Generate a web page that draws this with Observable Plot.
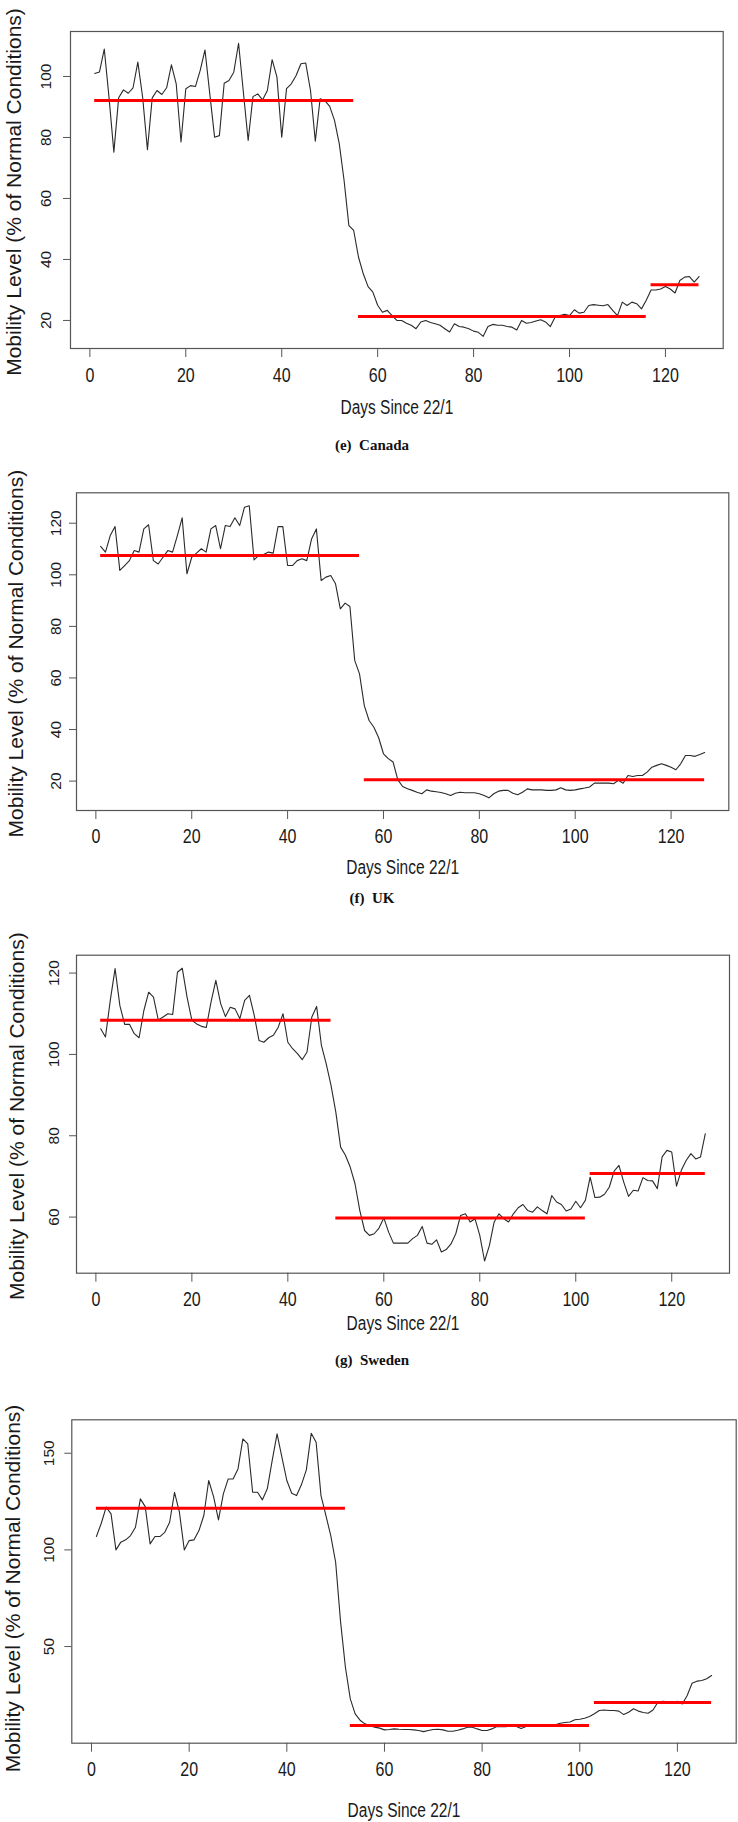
<!DOCTYPE html>
<html><head><meta charset="utf-8">
<script src="https://cdn.jsdelivr.net/npm/d3@7"></script>
<script src="https://cdn.jsdelivr.net/npm/@observablehq/plot@0.6"></script>
<style>
html,body{margin:0;padding:0;background:#fff;}
#page{position:relative;width:738px;height:1822px;overflow:hidden;background:#fff;}
.panel{position:absolute;left:0;width:738px;}
.caption{position:absolute;left:0;width:744px;text-align:center;font-family:"Liberation Serif","Times New Roman",serif;font-weight:bold;font-size:15px;line-height:18px;color:#111;white-space:pre;}
</style></head><body><div id="page"></div>
<script>
const days = d3.range(1, 128);
const xTicks = [0, 20, 40, 60, 80, 100, 120];
const xTitle = "Days Since 22/1";
const yTitle = "Mobility Level (% of Normal Conditions)";

const canada = [101,101.5,109,93,75.2,93,95.6,94.5,96.3,104.7,
93.2,76,93,95.4,94.1,96.3,103.8,97.6,78.5,96,
97,96.7,102,108.7,94.3,80.1,80.6,97.8,98.7,101.4,
110.9,94.9,79,93.4,94.3,92.3,95.4,105.5,99.8,80.1,
96,97.6,100.3,104.2,104.4,95.4,78.8,92.7,92.1,90.2,
85.6,77.9,65.9,51.1,49.5,40.8,35.3,31.1,29.3,25,
22.7,23.3,21.6,20,20,19.1,18.4,17.3,19.5,20,
19.3,18.9,18.4,17.3,16.2,18.9,18,17.8,17.3,16.5,
16.1,14.8,18,18.7,18.4,18.4,18,17.8,16.9,20,
19.1,19.3,19.8,20.2,19.5,18,21.1,21.6,22,21.6,
23.5,22.4,22.7,24.9,25.2,25,24.8,25.2,23.3,21.6,
26,24.9,26,25.5,23.8,26.6,30,30,30.3,31.1,
30.3,29,33.1,34.2,34.4,32.6,34.4];
const canadaLevels = [{start:1,end:55,level:92.1},{start:56,end:116,level:21.3},{start:117,end:127,level:31.7}];
const canadaYTicks = [20, 40, 60, 80, 100];

const uk = [111,108.8,115.2,118.7,101.7,103.6,105.5,109.4,108.8,117.8,
119.4,105.5,104.2,106.8,109.4,108.8,115.2,122.1,100.4,106.8,
108.4,110.1,108.8,117.8,119.1,110.1,119.1,118.7,122.1,119.1,
126.2,126.8,105.8,107.5,107.9,108.8,108.4,118.7,118.7,103.6,
103.6,105.5,106.2,105.5,113.9,117.8,97.8,99.1,99.7,96.5,
86.8,89,87.7,66.8,61.6,49.3,43.5,40.9,36.8,30.6,
28.7,27.4,20.5,17.9,17,16.4,15.7,15.1,16.6,16.1,
15.9,15.6,15.1,14.4,15.3,15.7,15.5,15.5,15.5,15.1,
14.4,13.5,15.1,16.1,16.4,16.4,15.3,14.7,15.7,17,
16.6,16.6,16.6,16.4,16.4,16.6,17.4,16.6,16.4,16.6,
17,17.3,17.7,19.2,19.2,19.2,19.2,19,20.3,19.2,
22.2,21.8,22.2,22.2,23.5,25.4,26.1,26.7,26.1,25.4,
24.4,26.7,29.9,29.9,29.6,30.3,31.1];
const ukLevels = [{start:1,end:55,level:107.5},{start:56,end:127,level:20.5}];
const ukYTicks = [20, 40, 60, 80, 100, 120];

const sweden = [106.3,104.3,113.3,121.1,112,107.4,107.4,105.1,104.1,110.8,
115.3,114.1,108.5,109.2,110,109.8,120.2,121.2,114.1,108.4,
107.5,106.9,106.6,112.9,118.2,112.5,109.3,111.6,111.2,108.8,
113.3,114.5,109.6,103.4,103,104.1,104.7,106.7,110,103,
101.4,100.2,98.7,100.6,109.2,111.8,102.2,97.7,92.4,85.8,
77.2,75.2,72.3,68.2,61.6,56.7,55.5,55.9,57.3,59.8,
56.3,53.6,53.6,53.6,53.6,54.7,55.5,57.7,53.6,53.3,
54.4,51.4,52,53.4,55.9,60.4,60.8,58.8,59.6,55.5,
49.2,53,58.8,60.8,59.6,58.8,60.8,62.3,63.1,61.6,
61.2,62.5,61.6,60.8,65.3,63.7,63.1,61.5,62,63.9,
62.3,64.1,69.8,64.8,64.9,65.6,67.4,71.3,72.7,68.6,
65.1,66.6,66.4,69.7,69,68.9,67,74.8,76.4,76,
67.6,71.5,73.9,75.6,74.3,74.8,80.5];
const swedenLevels = [{start:1,end:49,level:108.4},{start:50,end:102,level:59.8},{start:103,end:127,level:70.7}];
const swedenYTicks = [60, 80, 100, 120];

const fourth = [106.9,113.8,122.1,118.6,100,104,105.2,107.4,111.7,126.4,
122.4,103.1,106.9,106.9,109.1,114.3,129.8,119.5,100,104.8,
105.2,110,117.8,135.9,127.6,115.5,129,136.7,136.7,141.9,
157.4,154.8,129.8,129.8,125.9,131.6,146.2,160,147.9,135.9,
129.3,128.1,133.8,141.4,160.3,155.7,128.1,117.8,107.4,93.6,
63,39.3,22.9,15.2,11.9,10,9.1,8.3,7.8,6.9,
7.1,7.4,7.2,7.1,7.1,6.9,6.6,6,6.6,7.1,
7.2,6.9,6.2,6.2,6.7,7.4,8.3,8.3,7.4,6.6,
6.6,7.4,8.6,8.6,8.6,8.8,8.6,7.6,8.6,9,
9,9,9.1,9.3,9.5,10.3,10.7,11,12.1,12.4,
12.9,13.8,15.2,16.9,17.2,16.9,16.9,16.6,14.8,16,
17.8,16.6,15.9,15.5,17.2,21.2,21.7,21.4,21,21.7,
20.3,24.7,31,32.1,32.4,33.3,35];
const fourthLevels = [{start:1,end:52,level:121.6},{start:53,end:102,level:9.1},{start:103,end:127,level:21}];
const fourthYTicks = [50, 100, 150];

const captions = ["(e)  Canada", "(f)  UK", "(g)  Sweden"];

const page = document.getElementById("page");

// stretch a text element vertically about its own centre (the source figure is stretched)
function stretchY(el, k) {
  const b = el.getBBox();
  const cx = b.x + b.width / 2, cy = b.y + b.height / 2;
  const t = el.getAttribute("transform") || "";
  el.setAttribute("transform", `${t} translate(${cx},${cy}) scale(1,${k}) translate(${-cx},${-cy})`);
}

function makePanel(cfg) {
  const data = days.map((d, i) => ({day: d, value: cfg.values[i]}));
  const chart = Plot.plot({
    width: 738,
    height: cfg.height,
    marginTop: cfg.mTop, marginBottom: cfg.mBottom, marginLeft: cfg.mLeft, marginRight: cfg.mRight,
    style: {fontFamily: "'Liberation Sans', Arial, Helvetica, sans-serif", fontSize: "15px", color: "#1a1a1a", background: "#fff", overflow: "visible"},
    x: {domain: [-4.04, 132.04], label: null},
    y: {domain: cfg.yDomain, label: null},
    marks: [
      Plot.line(data, {x: "day", y: "value", stroke: "#2a2a2a", strokeWidth: 1.1}),
      Plot.ruleY(cfg.levels, {y: "level", x1: "start", x2: "end", stroke: "#ff0000", strokeWidth: 3}),
      Plot.frame({stroke: "#555", strokeWidth: 1.2}),
      Plot.axisX(xTicks, {tickSize: 9, tickPadding: cfg.xTickPad, fontSize: 16, label: null, stroke: "#555", fill: "#1a1a1a"}),
      Plot.axisY(cfg.yTicks, {tickSize: 7, tickFormat: () => "", label: null, stroke: "#555"}),
      Plot.text(cfg.yTicks, {y: d => d, text: d => String(d), frameAnchor: "left", textAnchor: "middle", lineAnchor: "middle", dx: -cfg.yTickDx, rotate: -90, fontSize: 15.5, fill: "#1a1a1a"}),
      Plot.text([xTitle], {text: d => d, frameAnchor: "bottom", textAnchor: "middle", lineAnchor: "middle", dy: cfg.xTitleDy, fontSize: 15.5, fill: "#1a1a1a"}),
      Plot.text([yTitle], {text: d => d, frameAnchor: "left", textAnchor: "middle", lineAnchor: "middle", dx: -cfg.yTitleDx, dy: cfg.yTitleDy, rotate: -90, fontSize: 21, fill: "#1a1a1a"})
    ]
  });
  const div = document.createElement("div");
  div.className = "panel";
  div.style.top = cfg.top + "px";
  div.appendChild(chart);
  page.appendChild(div);
  // x tick labels and x title: taller glyphs like the reference
  chart.querySelectorAll('g[aria-label="x-axis tick label"] text').forEach(el => stretchY(el, 1.25));
  chart.querySelectorAll("text").forEach(el => { if (el.textContent === xTitle) stretchY(el, 1.3); });
  if (cfg.caption) {
    const c = document.createElement("div");
    c.className = "caption";
    c.style.top = (cfg.captionY - 9) + "px";
    c.textContent = cfg.caption;
    page.appendChild(c);
  }
}

makePanel({values: canada, levels: canadaLevels, yTicks: canadaYTicks, yDomain: [10.8, 114.75],
  top: 0, height: 425, mTop: 31, mBottom: 77, mLeft: 70, mRight: 15.3,
  xTickPad: 11.5, xTitleDy: 59, yTickDx: 24, yTitleDx: 56, yTitleDy: 2, caption: captions[0], captionY: 445});

makePanel({values: uk, levels: ukLevels, yTicks: ukYTicks, yDomain: [8.6, 131.8],
  top: 460, height: 425, mTop: 32.3, mBottom: 75, mLeft: 76, mRight: 9.7,
  xTickPad: 10.5, xTitleDy: 57, yTickDx: 20, yTitleDx: 60.7, yTitleDy: 2, caption: captions[1], captionY: 898});

makePanel({values: sweden, levels: swedenLevels, yTicks: swedenYTicks, yDomain: [46.2, 124.4],
  top: 920, height: 420, mTop: 34.7, mBottom: 67.3, mLeft: 76, mRight: 9,
  xTickPad: 11, xTitleDy: 50.5, yTickDx: 22.5, yTitleDx: 59.3, yTitleDy: 2, caption: captions[2], captionY: 1360});

makePanel({values: fourth, levels: fourthLevels, yTicks: fourthYTicks, yDomain: [0, 167.3],
  top: 1380, height: 442, mTop: 39.3, mBottom: 79.3, mLeft: 71.3, mRight: 2.3,
  xTickPad: 11, xTitleDy: 67.3, yTickDx: 23, yTitleDx: 58.8, yTitleDy: 7, caption: null});
</script></body></html>
